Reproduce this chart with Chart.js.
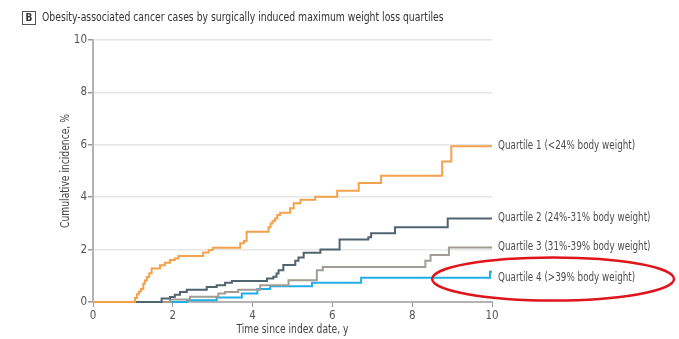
<!DOCTYPE html>
<html>
<head>
<meta charset="utf-8">
<script src="https://cdn.jsdelivr.net/npm/chart.js@4/dist/chart.umd.min.js"></script>
<style>
  html, body { margin: 0; padding: 0; background: #fff; }
  #wrap { width: 679px; height: 339px; position: relative; }
</style>
</head>
<body>
<div id="wrap"><canvas id="chartKM"></canvas></div>
<script>
// datos (tiempo en años, incidencia acumulada en %)
const q1Time = [0, 1.0, 1.05, 1.1, 1.15, 1.2, 1.26, 1.3, 1.35, 1.41, 1.47, 1.68, 1.8, 1.93, 2.05, 2.14, 2.76, 2.9, 3.0, 3.69, 3.78, 3.85, 4.40, 4.45, 4.5, 4.56, 4.62, 4.69, 4.94, 5.03, 5.2, 5.57, 6.12, 6.66, 7.22, 8.75, 8.98, 10];
const q1Inc  = [0, 0, 0.15, 0.3, 0.4, 0.5, 0.7, 0.82, 0.95, 1.1, 1.28, 1.4, 1.5, 1.6, 1.66, 1.76, 1.89, 1.98, 2.07, 2.24, 2.33, 2.68, 2.85, 3.0, 3.09, 3.19, 3.32, 3.41, 3.58, 3.77, 3.9, 4.02, 4.25, 4.54, 4.82, 5.36, 5.94, 5.94];

const q2Time = [0, 1.72, 1.93, 2.05, 2.18, 2.35, 2.85, 3.1, 3.31, 3.48, 4.36, 4.52, 4.6, 4.65, 4.77, 5.07, 5.15, 5.28, 5.7, 6.18, 6.9, 6.97, 7.57, 8.89, 10];
const q2Inc  = [0, 0.13, 0.19, 0.28, 0.38, 0.47, 0.57, 0.64, 0.73, 0.8, 0.9, 0.96, 1.09, 1.21, 1.41, 1.57, 1.7, 1.88, 2.0, 2.39, 2.47, 2.62, 2.85, 3.19, 3.19];

const q3Time = [0, 1.93, 2.43, 3.14, 3.31, 3.64, 4.19, 4.9, 5.61, 5.76, 8.33, 8.46, 8.92, 10];
const q3Inc  = [0, 0.1, 0.2, 0.32, 0.38, 0.47, 0.64, 0.83, 1.21, 1.34, 1.57, 1.79, 2.08, 2.08];

const q4Time = [0, 2.35, 3.1, 3.73, 4.12, 4.44, 5.49, 6.72, 9.95, 10];
const q4Inc  = [0, 0.07, 0.17, 0.32, 0.5, 0.6, 0.73, 0.93, 1.15, 1.15];

const seriesLabels = [
  'Quartile 1 (<24% body weight)',
  'Quartile 2 (24%-31% body weight)',
  'Quartile 3 (31%-39% body weight)',
  'Quartile 4 (>39% body weight)'
];
const seriesColors = ['#f4a14b', '#4f6470', '#a39c92', '#22ade6'];

const xTicks = [0, 2, 4, 6, 8, 10];
const yTicks = [0, 2, 4, 6, 8, 10];

const panelLetter = 'B';
const panelTitle = 'Obesity-associated cancer cases by surgically induced maximum weight loss quartiles';
const xTitle = 'Time since index date, y';
const yTitle = 'Cumulative incidence, %';

const FONT = '"Liberation Sans Narrow", "DejaVu Sans Condensed", "Roboto Condensed", "Open Sans", sans-serif';
const SQUEEZE = 0.85; // la fuente original es más estrecha

function toPoints(xs, ys) {
  return xs.map((x, i) => ({ x: x, y: ys[i] }));
}

// texto comprimido horizontalmente
function narrowText(c, text, x, y, font, color, align, squeeze) {
  c.save();
  c.font = font;
  c.fillStyle = color;
  c.textAlign = align || 'left';
  c.textBaseline = 'middle';
  c.translate(x, y);
  c.scale(squeeze || SQUEEZE, 1);
  c.fillText(text, 0, 0);
  c.restore();
}

const allTimes = [q1Time, q2Time, q3Time, q4Time];
const allInc = [q1Inc, q2Inc, q3Inc, q4Inc];

// título del panel, títulos de ejes
const panelTitlePlugin = {
  id: 'panelTitle',
  afterDraw(chart) {
    const c = chart.ctx;
    const area = chart.chartArea;
    c.save();
    c.strokeStyle = '#555';
    c.lineWidth = 1;
    c.strokeRect(22.5, 11.5, 13, 13);
    c.restore();
    narrowText(c, panelLetter, 29, 18.5, 'bold 10px ' + FONT, '#333', 'center', 1);
    narrowText(c, panelTitle, 42, 18, '12px ' + FONT, '#333', 'left', 0.86);
    narrowText(c, xTitle, (area.left + area.right) / 2, 330, '12px ' + FONT, '#444', 'center');
    c.save();
    c.translate(66, (area.top + area.bottom) / 2);
    c.rotate(-Math.PI / 2);
    narrowText(c, yTitle, 0, 0, '12px ' + FONT, '#444', 'center');
    c.restore();
  }
};

// etiquetas al final de cada curva + elipse roja
const endLabelsPlugin = {
  id: 'endLabels',
  afterDatasetsDraw(chart) {
    const c = chart.ctx;
    const xs = chart.scales.x, ys = chart.scales.y;
    chart.data.datasets.forEach(ds => {
      let v = 0;
      ds.data.forEach(p => { if (p.x <= 9.9) v = p.y; });
      narrowText(c, ds.label, xs.getPixelForValue(10) + 6, ys.getPixelForValue(v), '11.5px ' + FONT, '#4d4d4d', 'left');
    });
    // elipse roja (anotación)
    const left = xs.getPixelForValue(8.5);
    const right = chart.width - 5;
    c.save();
    c.strokeStyle = '#e0141b';
    c.lineWidth = 2.5;
    c.beginPath();
    c.ellipse((left + right) / 2, ys.getPixelForValue(0.88), (right - left) / 2, 21.5, 0, 0, Math.PI * 2);
    c.stroke();
    c.restore();
  }
};

const ctx = document.getElementById('chartKM').getContext('2d');

new Chart(ctx, {
  type: 'line',
  data: {
    datasets: allTimes.map((t, i) => ({
      label: seriesLabels[i],
      data: toPoints(t, allInc[i]),
      borderColor: seriesColors[i],
      borderWidth: 2,
      stepped: 'before',
      pointRadius: 0,
      fill: false,
      clip: 3,
      order: i
    }))
  },
  options: {
    responsive: true,
    maintainAspectRatio: false,
    animation: false,
    layout: { padding: { top: 40, right: 187, left: 0, bottom: 0 } },
    plugins: {
      legend: { display: false },
      tooltip: { enabled: false }
    },
    scales: {
      x: {
        type: 'linear',
        min: 0,
        max: 10,
        afterBuildTicks(scale) { scale.ticks = xTicks.map(v => ({ value: v })); },
        afterFit(scale) { scale.height = 37; },
        ticks: { color: '#555', font: { family: FONT, size: 11.5 }, padding: 2 },
        grid: { drawOnChartArea: false, drawTicks: true, tickLength: 5, tickColor: '#999' },
        border: { color: '#b3b3b3', width: 2 }
      },
      y: {
        type: 'linear',
        min: 0,
        max: 10,
        afterBuildTicks(scale) { scale.ticks = yTicks.map(v => ({ value: v })); },
        afterFit(scale) { scale.width = 93; },
        ticks: { color: '#555', font: { family: FONT, size: 11.5 }, padding: 1 },
        grid: { color: '#e6e6e6', lineWidth: 1.5, drawTicks: true, tickLength: 5, tickColor: '#999' },
        border: { color: '#b3b3b3', width: 2 }
      }
    }
  },
  plugins: [panelTitlePlugin, endLabelsPlugin]
});
</script>
</body>
</html>
